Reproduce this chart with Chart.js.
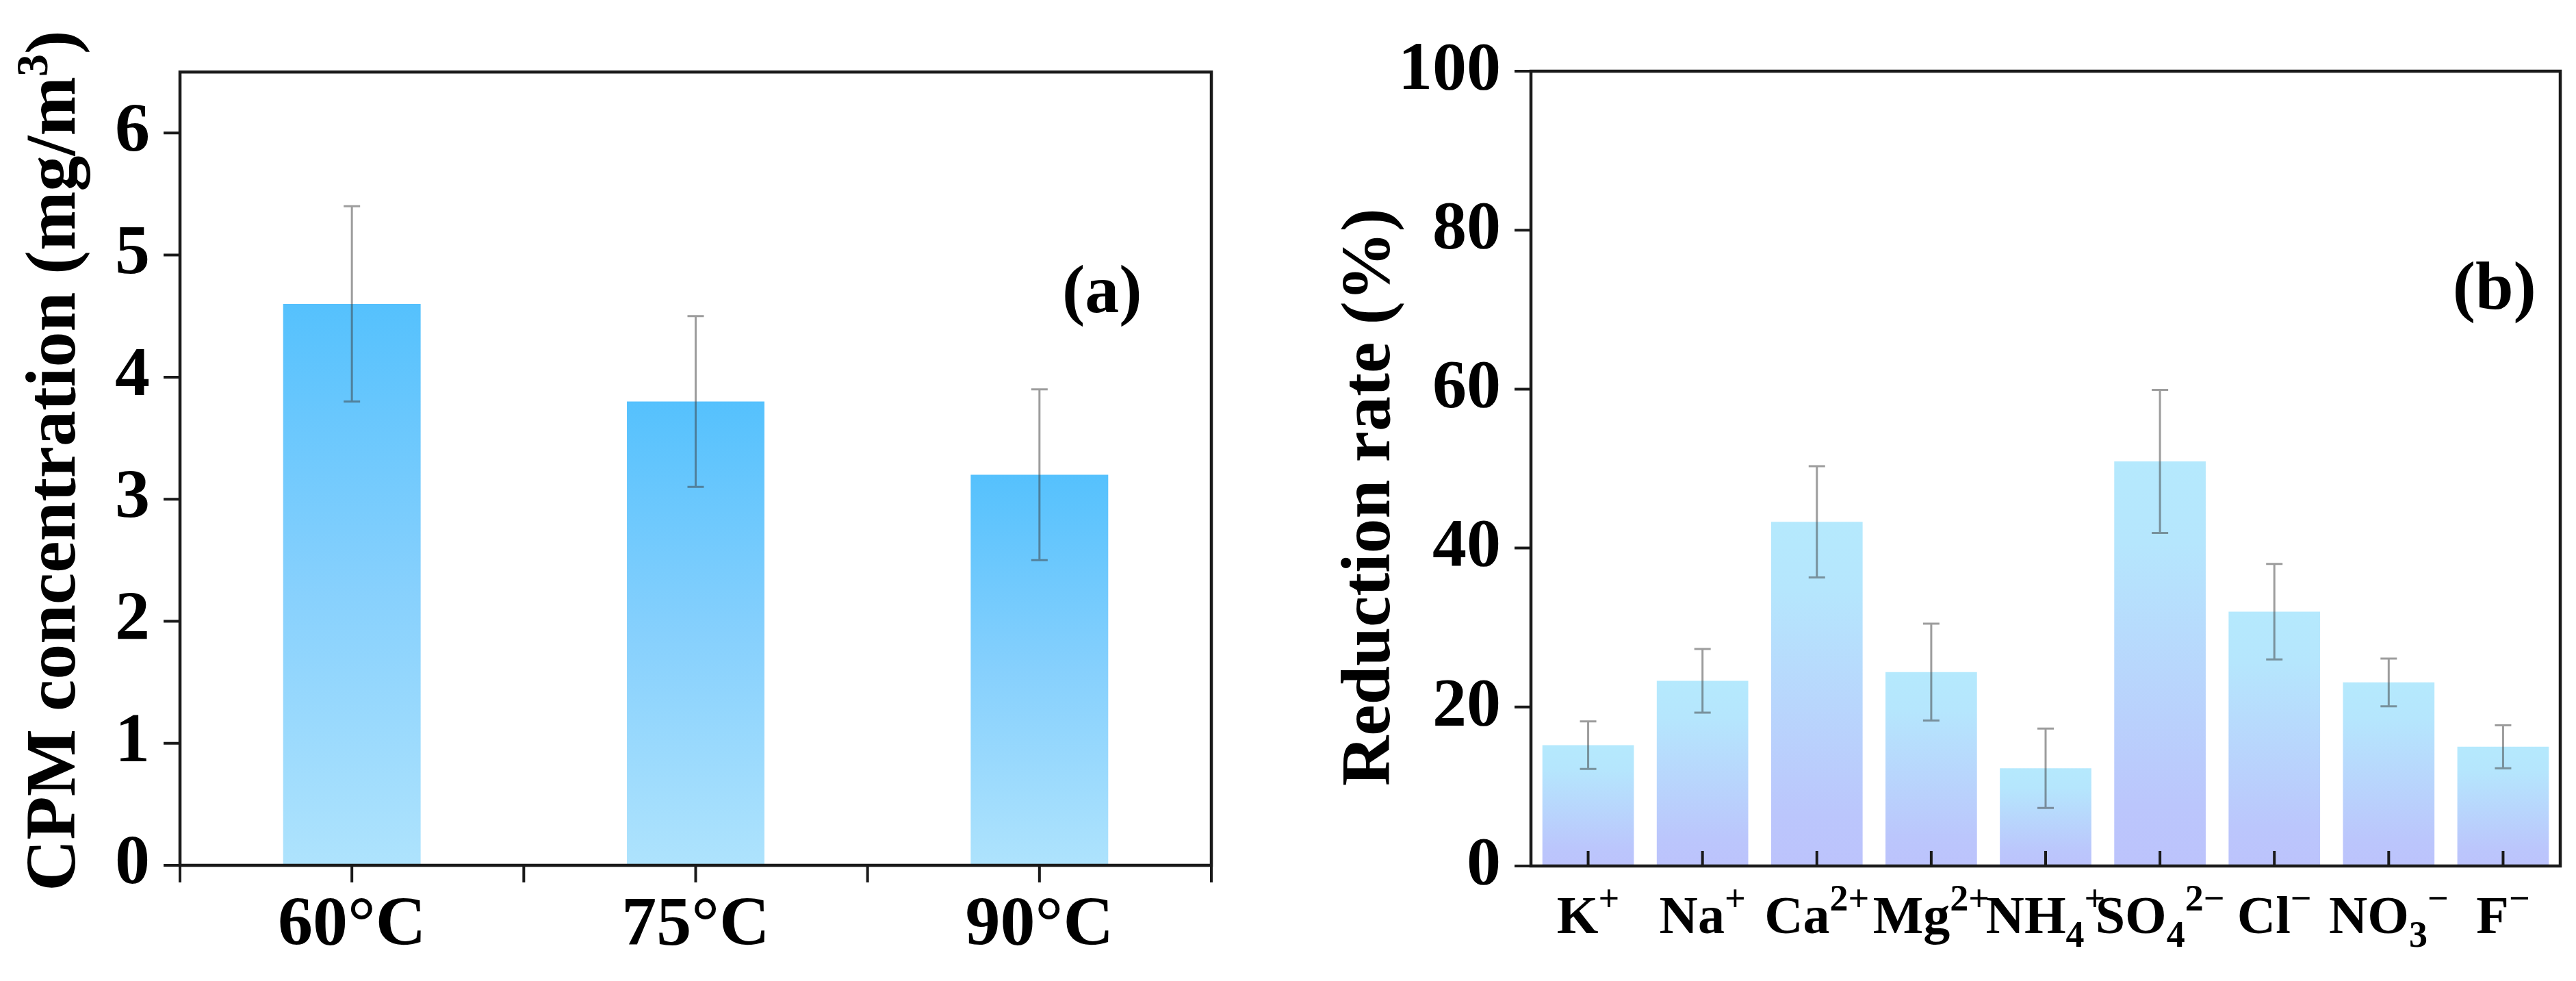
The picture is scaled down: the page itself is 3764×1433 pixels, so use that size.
<!DOCTYPE html>
<html>
<head>
<meta charset="utf-8">
<script src="https://cdn.jsdelivr.net/npm/chart.js@4.4.1/dist/chart.umd.min.js"></script>
<style>
  body { margin: 0; background: #fff; }
  .panel { position: absolute; top: 0; height: 1433px; }
  #panelA { left: 0; width: 1800px; }
  #panelB { left: 1800px; width: 1964px; }
</style>
</head>
<body>
<div class="panel" id="panelA"><canvas id="chartA"></canvas></div>
<div class="panel" id="panelB"><canvas id="chartB"></canvas></div>
<script>
// (a) CPM concentration by temperature
const tempLabels = ["60°C", "75°C", "90°C"];
const cpmMeans = [4.6, 3.8, 3.2];
const cpmErrors = [0.8, 0.7, 0.7];

// (b) reduction rate per ion
const ionLabels = ["K+", "Na+", "Ca2+", "Mg2+", "NH4+", "SO42-", "Cl-", "NO3-", "F-"];
const ionBase = ["K", "Na", "Ca", "Mg", "NH", "SO", "Cl", "NO", "F"];
const ionSub = ["", "", "", "", "4", "4", "", "3", ""];
const ionSup = ["+", "+", "2+", "2+", "+", "2\u2212", "\u2212", "\u2212", "\u2212"];
const reductionMeans = [15.2, 23.3, 43.3, 24.4, 12.3, 50.9, 32.0, 23.1, 15.0];
const reductionErrors = [3.0, 4.0, 7.0, 6.1, 5.0, 9.0, 6.0, 3.0, 2.7];

const FONT = "'Liberation Serif', 'Times New Roman', serif";
const INK = "#1a1a1a";

// gradient from the bar's top down to zero
function barFill(stops) {
  return (c) => {
    const chart = c.chart;
    if (!chart.chartArea || c.type !== "data") return stops[0][1];
    const y = chart.scales.y;
    const top = y.getPixelForValue(c.raw);
    const base = y.getPixelForValue(0);
    const g = chart.ctx.createLinearGradient(0, top, 0, base);
    stops.forEach(s => g.addColorStop(s[0], s[1]));
    return g;
  };
}

// text with optional subscript / superscript pieces
function drawRich(ctx, parts, x, y, align) {
  let total = 0;
  parts.forEach(p => { ctx.font = p.font; p.w = ctx.measureText(p.t).width; total += p.w; });
  let cx = align === "center" ? x - total / 2 : x;
  ctx.textAlign = "left";
  ctx.textBaseline = "alphabetic";
  parts.forEach(p => {
    ctx.font = p.font;
    ctx.fillText(p.t, cx, y + (p.dy || 0));
    cx += p.w;
  });
  return total;
}

const errorBars = {
  id: "errorBars",
  afterDatasetsDraw(chart, args, opts) {
    const { ctx } = chart;
    const y = chart.scales.y;
    const meta = chart.getDatasetMeta(0);
    const values = chart.data.datasets[0].data;
    ctx.save();
    ctx.strokeStyle = "rgba(60,60,60,0.5)";
    ctx.lineWidth = 3;
    meta.data.forEach((bar, i) => {
      const hi = y.getPixelForValue(values[i] + opts.errors[i]);
      const lo = y.getPixelForValue(values[i] - opts.errors[i]);
      const cap = 12;
      ctx.beginPath();
      ctx.moveTo(bar.x - cap, hi); ctx.lineTo(bar.x + cap, hi);
      ctx.moveTo(bar.x, hi); ctx.lineTo(bar.x, lo);
      ctx.moveTo(bar.x - cap, lo); ctx.lineTo(bar.x + cap, lo);
      ctx.stroke();
    });
    ctx.restore();
  }
};

const frame = {
  id: "frame",
  afterDraw(chart, args, opts) {
    const { ctx, chartArea: a } = chart;
    const { x, y } = chart.scales;
    ctx.save();
    ctx.strokeStyle = INK;
    ctx.fillStyle = "#000";
    ctx.lineWidth = 4.5;
    ctx.strokeRect(a.left, a.top, a.right - a.left, a.bottom - a.top);

    // y ticks, outward
    ctx.lineWidth = 4;
    ctx.beginPath();
    y.ticks.forEach(t => {
      const py = y.getPixelForValue(t.value);
      const major = Math.abs(t.value / opts.majorStep - Math.round(t.value / opts.majorStep)) < 1e-6;
      const len = major ? 24 : 12;
      ctx.moveTo(a.left - len, py); ctx.lineTo(a.left, py);
    });
    // x ticks
    const n = chart.data.labels.length;
    const half = (x.getPixelForValue(1) - x.getPixelForValue(0)) / 2;
    for (let i = 0; i < n; i++) {
      const px = x.getPixelForValue(i);
      if (opts.xTicksInside) {
        ctx.moveTo(px, a.bottom); ctx.lineTo(px, a.bottom - 22);
      } else {
        ctx.moveTo(px, a.bottom); ctx.lineTo(px, a.bottom + 25);
        ctx.moveTo(px - half, a.bottom); ctx.lineTo(px - half, a.bottom + 25);
        ctx.moveTo(px + half, a.bottom); ctx.lineTo(px + half, a.bottom + 25);
      }
    }
    ctx.stroke();

    // ion labels under the right panel
    if (opts.ionLabels) {
      const baseY = a.bottom + 98;
      for (let i = 0; i < n; i++) {
        const parts = [{ t: ionBase[i], font: "bold 78px " + FONT }];
        if (ionSub[i]) parts.push({ t: ionSub[i], font: "bold 54px " + FONT, dy: 20 });
        parts.push({ t: ionSup[i], font: "bold 54px " + FONT, dy: -33 });
        drawRich(ctx, parts, x.getPixelForValue(i), baseY, "center");
      }
    }

    // rotated y-axis title
    const t = opts.title;
    ctx.save();
    ctx.translate(a.left + t.dx, a.top + t.frac * (a.bottom - a.top));
    ctx.rotate(-Math.PI / 2);
    const parts = [{ t: t.text, font: "bold " + t.size + "px " + FONT }];
    if (t.sup) {
      parts.push({ t: t.sup, font: "bold 66px " + FONT, dy: -40 });
      parts.push({ t: t.tail, font: "bold " + t.size + "px " + FONT });
    }
    drawRich(ctx, parts, 0, 0, "center");
    ctx.restore();

    // panel tag
    ctx.font = "bold 100px " + FONT;
    ctx.textAlign = "center";
    ctx.textBaseline = "alphabetic";
    ctx.fillText(opts.tag, a.left + opts.tagX * (a.right - a.left), a.top + opts.tagY * (a.bottom - a.top));
    ctx.restore();
  }
};

Chart.defaults.font.family = FONT;
Chart.defaults.color = "#000";

// panel (a)
new Chart(document.getElementById("chartA"), {
  type: "bar",
  data: {
    labels: tempLabels,
    datasets: [{
      data: cpmMeans,
      backgroundColor: barFill([[0, "#55C1FD"], [0.5, "#86D0FD"], [1, "#AEE3FD"]]),
      borderWidth: 0,
      categoryPercentage: 1,
      barPercentage: 0.4
    }]
  },
  options: {
    responsive: true,
    maintainAspectRatio: false,
    animation: false,
    layout: { padding: { left: 0, right: 30, top: 69, bottom: 0 } },
    plugins: {
      legend: { display: false },
      tooltip: { enabled: false },
      errorBars: { errors: cpmErrors },
      frame: {
        majorStep: 1,
        xTicksInside: false,
        tag: "(a)", tagX: 0.894, tagY: 0.303,
        title: { text: "CPM concentration (mg/m", sup: "3", tail: ")", size: 104, dx: -154, frac: 0.49 }
      }
    },
    scales: {
      x: {
        offset: true,
        grid: { display: false, drawTicks: false },
        border: { display: false },
        ticks: { font: { size: 102, weight: "bold" }, padding: 28, color: "#000" },
        afterFit: s => { s.height = 169; }
      },
      y: {
        min: 0,
        max: 6.5,
        grid: { display: false, drawTicks: false },
        border: { display: false },
        ticks: {
          stepSize: 0.5,
          padding: 44,
          font: { size: 102, weight: "bold" },
          color: "#000",
          callback: v => (Number.isInteger(v) ? String(v) : "")
        },
        afterFit: s => { s.width = 263; }
      }
    }
  },
  plugins: [errorBars, frame]
});

// panel (b)
new Chart(document.getElementById("chartB"), {
  type: "bar",
  data: {
    labels: ionLabels,
    datasets: [{
      data: reductionMeans,
      backgroundColor: barFill([[0, "#B5E9FD"], [0.2, "#B5E6FD"], [0.85, "#BBC6FC"], [1, "#BCC3FC"]]),
      borderWidth: 0,
      categoryPercentage: 1,
      barPercentage: 0.8
    }]
  },
  options: {
    responsive: true,
    maintainAspectRatio: false,
    animation: false,
    layout: { padding: { left: 0, right: 23, top: 70, bottom: 0 } },
    plugins: {
      legend: { display: false },
      tooltip: { enabled: false },
      errorBars: { errors: reductionErrors },
      frame: {
        majorStep: 20,
        xTicksInside: true,
        ionLabels: true,
        tag: "(b)", tagX: 0.936, tagY: 0.299,
        title: { text: "Reduction rate (%)", size: 102, dx: -207, frac: 0.536 }
      }
    },
    scales: {
      x: {
        offset: true,
        grid: { display: false, drawTicks: false },
        border: { display: false },
        ticks: { display: false },
        afterFit: s => { s.height = 168; }
      },
      y: {
        min: 0,
        max: 100,
        grid: { display: false, drawTicks: false },
        border: { display: false },
        ticks: {
          stepSize: 10,
          padding: 44,
          font: { size: 100, weight: "bold" },
          color: "#000",
          callback: v => (v % 20 === 0 ? String(v) : "")
        },
        afterFit: s => { s.width = 437; }
      }
    }
  },
  plugins: [errorBars, frame]
});
</script>
</body>
</html>
